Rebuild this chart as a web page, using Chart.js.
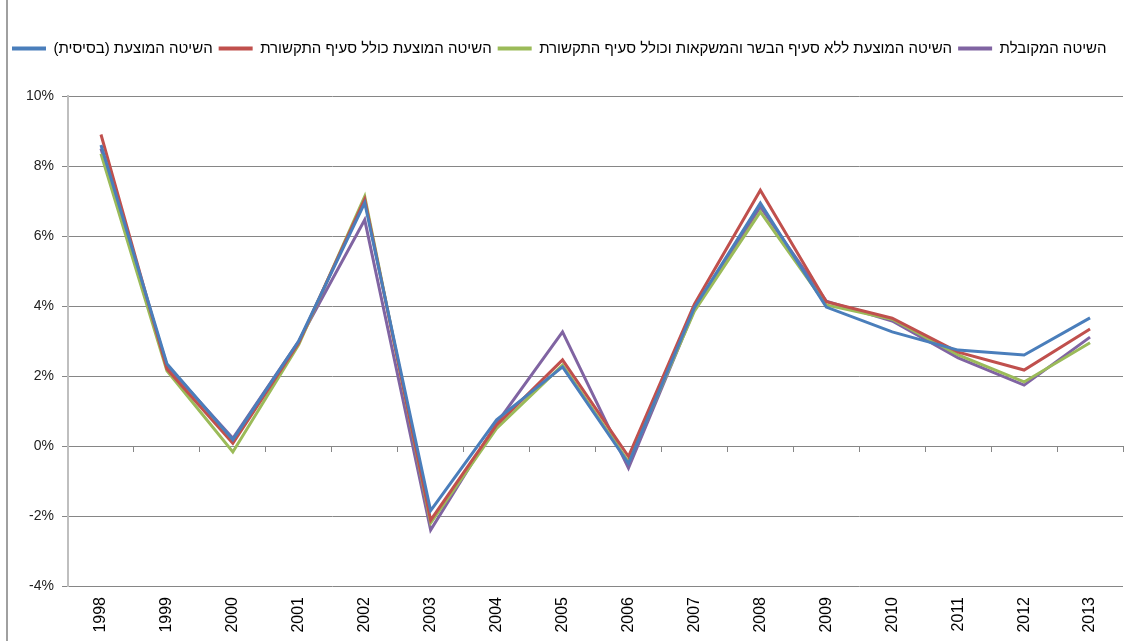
<!DOCTYPE html>
<html>
<head>
<meta charset="utf-8">
<script src="https://cdn.jsdelivr.net/npm/chart.js@4/dist/chart.umd.min.js"></script>
<style>
    html, body { margin: 0; padding: 0; background: #fff; overflow: hidden; }
    #wrap { position: relative; width: 1141px; height: 641px; }
    #frame { position: absolute; left: 6px; top: 0; width: 2px; height: 641px; background: #a0a0a0; }
</style>
</head>
<body>
<div id="wrap">
    <canvas id="chart"></canvas>
    <div id="frame"></div>
</div>
<script>
// נתונים
const years = ['1998', '1999', '2000', '2001', '2002', '2003', '2004', '2005',
               '2006', '2007', '2008', '2009', '2010', '2011', '2012', '2013'];

const seriesNames = [
    'השיטה המוצעת (בסיסית)',
    'השיטה המוצעת כולל סעיף התקשורת',
    'השיטה המוצעת ללא סעיף הבשר והמשקאות וכולל סעיף התקשורת',
    'השיטה המקובלת'
];

const basic      = [8.6, 2.35, 0.18, 3.0, 6.95, -1.85, 0.75, 2.26, -0.5, 3.95, 6.94, 3.97, 3.26, 2.74, 2.6, 3.66];
const withComm   = [8.9, 2.2, 0.08, 2.95, 7.05, -2.12, 0.6, 2.46, -0.3, 4.05, 7.31, 4.12, 3.65, 2.68, 2.17, 3.34];
const noMeatComm = [8.35, 2.15, -0.17, 2.9, 7.13, -2.2, 0.5, 2.31, -0.45, 3.85, 6.69, 4.03, 3.62, 2.6, 1.83, 2.95];
const accepted   = [8.5, 2.3, 0.22, 3.0, 6.46, -2.4, 0.65, 3.26, -0.63, 3.9, 6.83, 4.14, 3.57, 2.52, 1.74, 3.11];

const yMin = -4, yMax = 10, yStep = 2;

const colors = ['#4a7ebb', '#c0504d', '#9bbb59', '#8064a2'];
const fontFamily = "'Liberation Sans', Arial, sans-serif";

// עטיפה בכיוון ימין-לשמאל כדי שהסוגריים יוצגו נכון
function rtl(s) {
    return '\u202B' + s + '\u202C';
}

function makeSet(label, data, color) {
    return {
        label: rtl(label),
        data: data,
        borderColor: color,
        backgroundColor: color,
        borderWidth: 3,
        pointRadius: 0,
        tension: 0,
        xAxisID: 'x',
        yAxisID: 'y'
    };
}

// מרווח מתחת למקרא
const legendSpacer = {
    id: 'legendSpacer',
    beforeInit(chart) {
        const fit = chart.legend.fit;
        chart.legend.fit = function () {
            fit.bind(chart.legend)();
            this.height += 30;
        };
    }
};

const ctx = document.getElementById('chart').getContext('2d');
const chart = new Chart(ctx, {
    type: 'line',
    data: {
        labels: years,
        datasets: [
            makeSet(seriesNames[0], basic, colors[0]),
            makeSet(seriesNames[1], withComm, colors[1]),
            makeSet(seriesNames[2], noMeatComm, colors[2]),
            makeSet(seriesNames[3], accepted, colors[3])
        ]
    },
    plugins: [legendSpacer],
    options: {
        responsive: true,
        maintainAspectRatio: false,
        animation: false,
        layout: {
            padding: { left: 6, right: 18, top: 35, bottom: 0 }
        },
        scales: {
            x: {
                type: 'category',
                position: 'bottom',
                offset: true,
                grid: { display: false, drawTicks: false },
                border: { display: false },
                afterFit: function (scale) { scale.height = 55; },
                ticks: {
                    minRotation: 90,
                    maxRotation: 90,
                    autoSkip: false,
                    padding: 11,
                    color: '#000',
                    font: { family: fontFamily, size: 16 }
                }
            },
            xZero: {
                type: 'category',
                labels: years,
                position: { y: 0 },
                offset: true,
                grid: {
                    display: true,
                    offset: true,
                    drawOnChartArea: false,
                    drawTicks: true,
                    tickLength: 5,
                    color: '#868686'
                },
                border: { display: true, color: '#868686', width: 1 },
                ticks: { display: false }
            },
            y: {
                min: yMin,
                max: yMax,
                afterFit: function (scale) { scale.width = 62; },
                ticks: {
                    stepSize: yStep,
                    padding: 8,
                    color: '#222',
                    font: { family: fontFamily, size: 14 },
                    callback: function (v) { return v + '%'; }
                },
                grid: {
                    color: '#868686',
                    tickLength: 6
                },
                border: { display: true, color: '#bfbfbf', width: 2 }
            }
        },
        plugins: {
            legend: {
                display: true,
                position: 'top',
                align: 'start',
                labels: {
                    boxWidth: 34,
                    boxHeight: 4,
                    padding: 6,
                    color: '#000',
                    font: { family: fontFamily, size: 15 },
                    generateLabels: function (c) {
                        return Chart.defaults.plugins.legend.labels.generateLabels(c).map(function (l) {
                            l.lineWidth = 0;
                            return l;
                        });
                    }
                }
            },
            tooltip: { enabled: false }
        }
    }
});
</script>
</body>
</html>
